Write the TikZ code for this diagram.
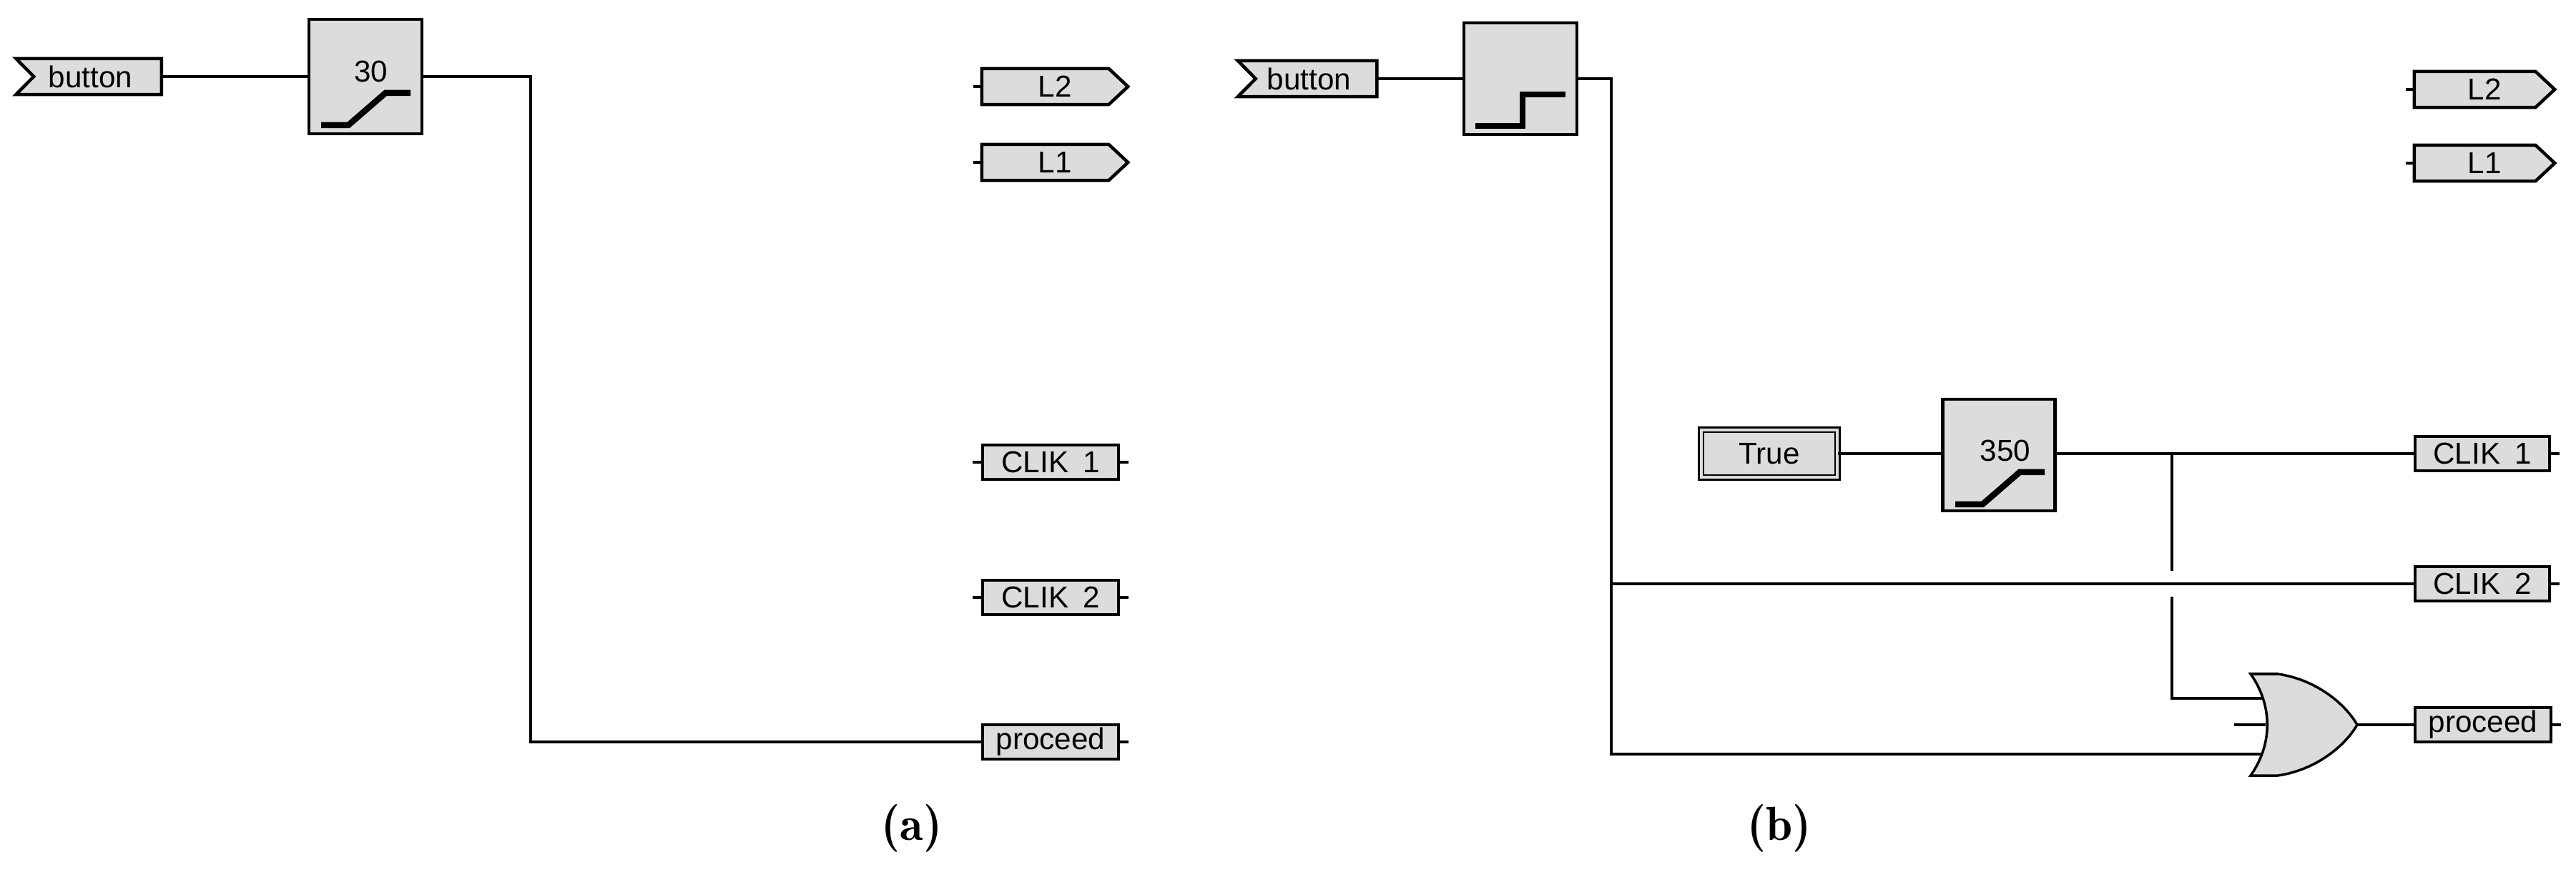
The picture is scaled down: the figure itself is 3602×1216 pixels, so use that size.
\documentclass[tikz,border=0pt]{standalone}
\usepackage{fontspec}
\setmainfont{Liberation Sans}
\usetikzlibrary{calc,backgrounds}
\definecolor{boxgray}{RGB}{220,220,220}
\begin{document}
\begin{tikzpicture}[x=0.01cm,y=-0.01cm,
  wire/.style={line width=0.035cm},
  bord/.style={line width=0.045cm, fill=boxgray},
  icon/.style={line width=0.085cm},
  txt/.style={font=\fontsize{12}{14}\selectfont, inner sep=0pt},
  box/.style={txt, draw, fill=boxgray, line width=0.045cm, minimum height=0.48cm, minimum width=1.9cm},
  blk/.style={draw, fill=boxgray, line width=0.045cm, minimum width=1.58cm, minimum height=1.58cm, inner sep=0pt},
  flag/.style={txt, minimum height=0.49cm, minimum width=1.98cm},
  captxt/.style={font=\fontfamily{lmr}\fontsize{19}{22}\selectfont\bfseries}]
\useasboundingbox (0,0) rectangle (3602,1216);

% ---------------- (a) ----------------
\node[flag, minimum width=2.02cm] (btnA) at (124,107) {\hspace{0.05cm}button};
\begin{scope}[on background layer]
\draw[bord] (btnA.north west) -- (btnA.north east) -- (btnA.south east) -- (btnA.south west) -- ($(btnA.west)+(25,0)$) -- cycle;
\end{scope}
\node[blk, minimum height=1.6cm] (blkA) at (511,107) {};
\draw[icon] (449,175) -- (487,175) -- (539,130) -- (574,130);
\node[txt] (tA) at (519,100) {30};

\node[flag, minimum width=2.03cm] (L2a) at (1475,121) {L2};
\node[flag, minimum width=2.03cm] (L1a) at (1475,227) {L1};
\begin{scope}[on background layer]
\foreach \n in {L2a,L1a}{
\draw[bord] (\n.north west) -- ($(\n.north east)+(-27,0)$) -- (\n.east) -- ($(\n.south east)+(-27,0)$) -- (\n.south west) -- cycle;
\draw[wire] (\n.west) -- ++(-12,0);}
\end{scope}
\node[box] (C1a) at (1469,646) {CLIK\hspace{0.2cm}1};
\node[box] (C2a) at (1469,835) {CLIK\hspace{0.2cm}2};
\node[box] (Pa) at (1469,1037) {proceed};
\foreach \n in {C1a,C2a,Pa}{
\draw[wire] (\n.west) -- ++(-12,0);
\draw[wire] (\n.east) -- ++(12,0);}

\draw[wire] (btnA.east) -- (blkA.west);
\draw[wire] (blkA.east) -- (742,107) -- (742,1037) -- (Pa.west);

\node[captxt] (capA) at (1275,1158) {(a)};

% ---------------- (b) ----------------
\node[flag, minimum width=1.93cm] (btnB) at (1828,110) {\hspace{0.05cm}button};
\begin{scope}[on background layer]
\draw[bord] (btnB.north west) -- (btnB.north east) -- (btnB.south east) -- (btnB.south west) -- ($(btnB.west)+(25,0)$) -- cycle;
\end{scope}
\node[blk, minimum height=1.56cm] (blkB) at (2126,110) {};
\draw[icon] (2063,176) -- (2129,176) -- (2129,132) -- (2189,132);

\node[txt, draw, double=boxgray, double distance=0.04cm, line width=0.025cm, fill=boxgray,
      minimum width=1.9cm, minimum height=0.66cm] (tru) at (2474,634) {True};
\node[blk, minimum height=1.56cm, minimum width=1.57cm] (blk350) at (2795,636) {};
\draw[icon] (2734,705) -- (2772,705) -- (2824,660) -- (2859,660);
\node[txt] (t350) at (2804,630) {350};

\node[flag, minimum width=1.95cm] (L2b) at (3474,125) {L2};
\node[flag, minimum width=1.95cm] (L1b) at (3474,228) {L1};
\begin{scope}[on background layer]
\foreach \n in {L2b,L1b}{
\draw[bord] (\n.north west) -- ($(\n.north east)+(-27,0)$) -- (\n.east) -- ($(\n.south east)+(-27,0)$) -- (\n.south west) -- cycle;
\draw[wire] (\n.west) -- ++(-12,0);}
\end{scope}
\node[box, minimum width=1.88cm] (C1b) at (3471,634) {CLIK\hspace{0.2cm}1};
\node[box, minimum width=1.88cm] (C2b) at (3471,816) {CLIK\hspace{0.2cm}2};
\node[box, minimum width=1.9cm] (Pb) at (3472,1013) {proceed};
\foreach \n in {C1b,C2b,Pb}{
\draw[wire] (\n.east) -- ++(12,0);}

% OR gate
\coordinate (orIn1) at (3163,976);
\coordinate (orIn2) at (3168,1013);
\coordinate (orIn3) at (3163,1054);
\coordinate (orOut) at (3296,1013);
\coordinate (orStub) at (3124,1013);
\draw[line width=0.035cm, fill=boxgray] (3147,942) -- (3185,942) .. controls (3240,950) and (3280,985) .. (orOut)
  .. controls (3280,1041) and (3240,1076) .. (3185,1084) -- (3147,1084) .. controls (3178,1040) and (3178,986) .. (3147,942) -- cycle;

\draw[wire] (btnB.east) -- (blkB.west);
\draw[wire] (blkB.east) -- (2253,110) -- (2253,1054) -- (orIn3);
\draw[wire] (2253,816) -- (C2b.west);
\draw[wire] (tru.east) -- (blk350.west |- tru.east);
\draw[wire] (blk350.east |- C1b.west) -- (C1b.west);
\draw[wire] (3037,634) -- (3037,798);
\draw[wire] (3037,834) -- (3037,976) -- (orIn1);
\draw[wire] (orStub) -- (orIn2);
\draw[wire] (orOut) -- (Pb.west);

\node[captxt] (capB) at (2488,1158) {(b)};
\end{tikzpicture}
\end{document}
